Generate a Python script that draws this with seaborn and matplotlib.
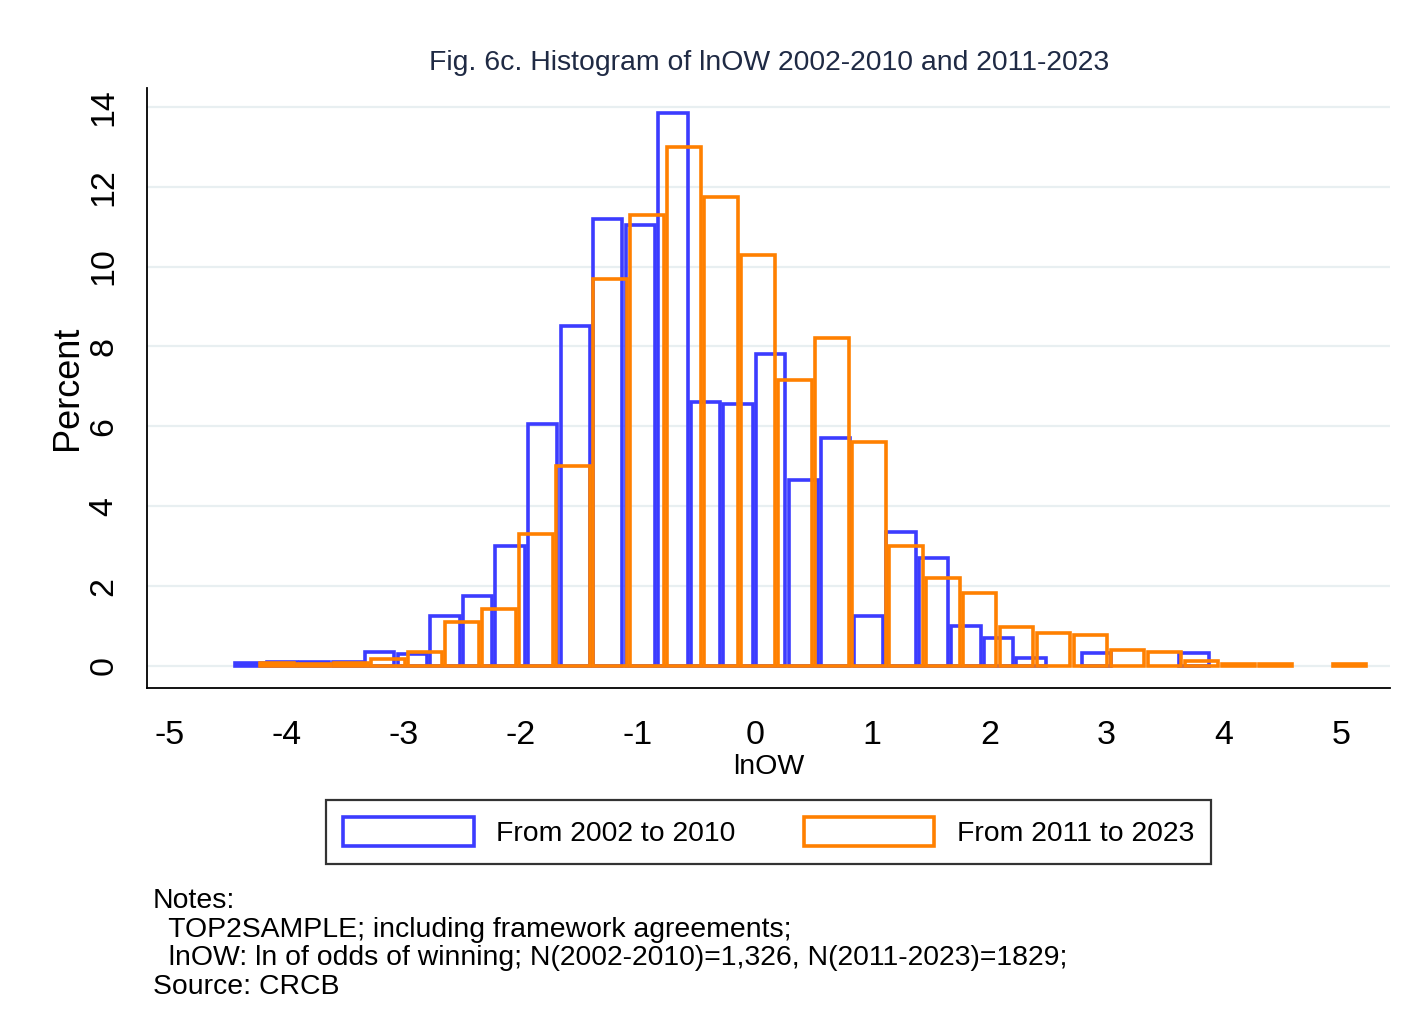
import numpy as np
import pandas as pd
import matplotlib
matplotlib.use("Agg")
import matplotlib.pyplot as plt
import seaborn as sns
from matplotlib.patches import Patch

# bin layout (30 bins per period)
blue_start, blue_width = -4.454, 0.278
orange_start, orange_width = -4.237, 0.3157

# percent per bin, 2002-2010
pct_2002_2010 = [0.08, 0.1, 0.1, 0.1, 0.35, 0.3, 1.25, 1.75, 3.0, 6.05,
                 8.5, 11.2, 11.05, 13.85, 6.6, 6.55, 7.8, 4.65, 5.7, 1.25,
                 3.35, 2.7, 1.0, 0.7, 0.2, 0.0, 0.33, 0.0, 0.0, 0.33]
# percent per bin, 2011-2023
pct_2011_2023 = [0.08, 0.05, 0.08, 0.17, 0.36, 1.1, 1.42, 3.3, 5.0, 9.7,
                 11.3, 13.0, 11.75, 10.3, 7.15, 8.2, 5.6, 3.0, 2.2, 1.82,
                 0.98, 0.83, 0.78, 0.4, 0.36, 0.13, 0.05, 0.05, 0.0, 0.05]

labels = ["From 2002 to 2010", "From 2011 to 2023"]
colors = ["#3c3cff", "#ff8000"]

sns.set_style("white")
plt.rcParams['font.family'] = ['Liberation Sans', 'DejaVu Sans']
plt.rcParams['axes.unicode_minus'] = False
plt.rcParams['text.color'] = 'black'
plt.rcParams['axes.labelcolor'] = 'black'
plt.rcParams['xtick.color'] = 'black'
plt.rcParams['ytick.color'] = 'black'

fig = plt.figure(figsize=(14.08, 10.35), dpi=100)
ax = fig.add_axes([0.1044, 0.3353, 0.8828, 0.5797])

series = [(blue_start, blue_width, pct_2002_2010), (orange_start, orange_width, pct_2011_2023)]
for (start, width, pct), col in zip(series, colors):
    edges = start + width * np.arange(len(pct) + 1)
    df = pd.DataFrame({"lnOW": (edges[:-1] + edges[1:]) / 2, "pct": pct})
    n_before = len(ax.patches)
    sns.histplot(data=df, x="lnOW", weights="pct", bins=list(edges), stat="count",
                 element="bars", fill=False, color=col, linewidth=2.6, shrink=0.9, ax=ax)
    for p in ax.patches[n_before:]:
        if p.get_height() == 0:
            p.set_visible(False)

ax.set_xlim(-5.19, 5.42)
ax.set_ylim(-0.55, 14.47)
ax.set_xticks(range(-5, 6))
ax.set_yticks(range(0, 15, 2))
ax.yaxis.grid(True, color="#e8eff1", linewidth=1.6)
ax.set_axisbelow(True)
sns.despine(ax=ax)
for s in ["left", "bottom"]:
    ax.spines[s].set_color("black")
    ax.spines[s].set_linewidth(1.3)
ax.tick_params(axis="x", which="major", length=9, width=1.3, labelsize=24.5, pad=14)
ax.tick_params(axis="y", which="major", length=9, width=1.3, labelsize=24.5, pad=11)
for t in ax.get_yticklabels():
    t.set_rotation(90)
    t.set_va("center")
ax.set_xlabel("lnOW", fontsize=20.5, labelpad=2)
ax.set_ylabel("Percent", fontsize=26, labelpad=2)

fig.text(0.546, 0.939, "Fig. 6c. Histogram of lnOW 2002-2010 and 2011-2023",
         ha="center", va="center", fontsize=20.4, color="#1f2a44")

handles = [Patch(facecolor="none", edgecolor=c, linewidth=2.6) for c in colors]
leg = fig.legend(handles, labels, loc="center", bbox_to_anchor=(0.546, 0.196), ncol=2,
                 fontsize=20.4, frameon=True, fancybox=False, handlelength=4.6,
                 handleheight=1.2, handletextpad=0.8, columnspacing=2.4,
                 borderpad=0.6, edgecolor="black")
leg.get_frame().set_linewidth(1.6)

notes = ["Notes:",
         "  TOP2SAMPLE; including framework agreements;",
         "  lnOW: ln of odds of winning; N(2002-2010)=1,326, N(2011-2023)=1829;",
         "Source: CRCB"]
for i, line in enumerate(notes):
    fig.text(0.1087, 1 - (901 + 28.7 * i) / 1035, line, ha="left", va="center", fontsize=20.4)

fig.savefig("out.png", dpi=100, facecolor="white")
